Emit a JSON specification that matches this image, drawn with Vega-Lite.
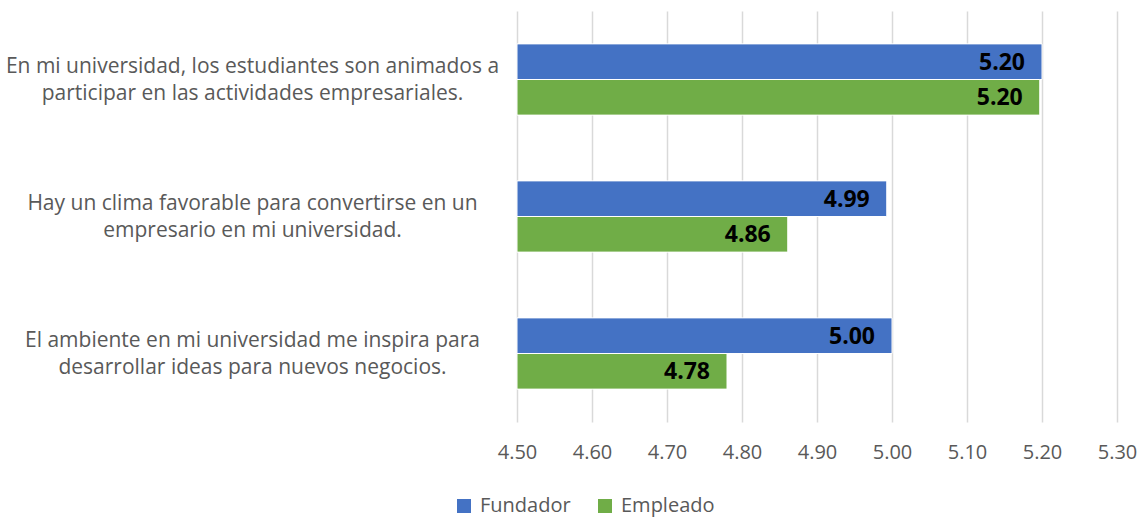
{
  "$schema": "https://vega.github.io/schema/vega-lite/v6.json",
  "width": 600,
  "height": 411,
  "autosize": {"type": "none"},
  "padding": {"left": 517, "top": 11, "right": 24, "bottom": 96},
  "background": "white",
  "config": {
    "view": {"stroke": null},
    "font": "Open Sans"
  },
  "data": {
    "values": [
      {"item": "En mi universidad, los estudiantes son animados a|participar en las actividades empresariales.", "grupo": "Fundador", "valor": 5.2},
      {"item": "En mi universidad, los estudiantes son animados a|participar en las actividades empresariales.", "grupo": "Empleado", "valor": 5.197},
      {"item": "Hay un clima favorable para convertirse en un|empresario en mi universidad.", "grupo": "Fundador", "valor": 4.993},
      {"item": "Hay un clima favorable para convertirse en un|empresario en mi universidad.", "grupo": "Empleado", "valor": 4.861},
      {"item": "El ambiente en mi universidad me inspira para|desarrollar ideas para nuevos negocios.", "grupo": "Fundador", "valor": 5.0},
      {"item": "El ambiente en mi universidad me inspira para|desarrollar ideas para nuevos negocios.", "grupo": "Empleado", "valor": 4.78}
    ]
  },
  "encoding": {
    "y": {
      "field": "item",
      "type": "nominal",
      "sort": null,
      "scale": {"paddingInner": 0.48, "paddingOuter": 0.24},
      "axis": {
        "title": null,
        "domain": false,
        "ticks": false,
        "labelAlign": "center",
        "labelPadding": 265,
        "labelOffset": -13,
        "labelExpr": "split(datum.label, '|')",
        "labelFont": "Open Sans",
        "labelFontSize": 21,
        "labelColor": "#595959",
        "labelLineHeight": 27,
        "labelLimit": 600
      }
    },
    "yOffset": {"field": "grupo", "type": "nominal", "sort": ["Fundador", "Empleado"]},
    "x": {
      "field": "valor",
      "type": "quantitative",
      "scale": {"domain": [4.5, 5.3], "zero": false, "nice": false},
      "axis": {
        "title": null,
        "values": [4.5, 4.6, 4.7, 4.8, 4.9, 5.0, 5.1, 5.2, 5.3],
        "format": ".2f",
        "domain": false,
        "ticks": false,
        "grid": true,
        "gridColor": "#d9d9d9",
        "gridWidth": 1.5,
        "labelFlush": false,
        "labelFont": "Open Sans",
        "labelFontSize": 20,
        "labelColor": "#595959",
        "labelPadding": 20
      }
    }
  },
  "layer": [
    {
      "mark": {"type": "bar", "stroke": "white", "strokeWidth": 1},
      "encoding": {
        "x2": {"datum": 4.5},
        "color": {
          "field": "grupo",
          "type": "nominal",
          "scale": {"domain": ["Fundador", "Empleado"], "range": ["#4472C4", "#70AD47"]},
          "legend": {
            "title": null,
            "orient": "none",
            "direction": "horizontal",
            "legendX": -63,
            "legendY": 485,
            "symbolType": "square",
            "symbolSize": 196,
            "symbolStrokeWidth": 0,
            "labelFont": "Open Sans",
            "labelFontSize": 20,
            "labelColor": "#595959",
            "columnPadding": 24,
            "labelOffset": 6
          }
        }
      }
    },
    {
      "mark": {"type": "text", "align": "right", "baseline": "middle", "dx": -17, "dy": 1, "fontSize": 23, "fontWeight": "bold", "color": "black", "font": "Open Sans"},
      "encoding": {
        "text": {"field": "valor", "type": "quantitative", "format": ".2f"}
      }
    }
  ]
}
